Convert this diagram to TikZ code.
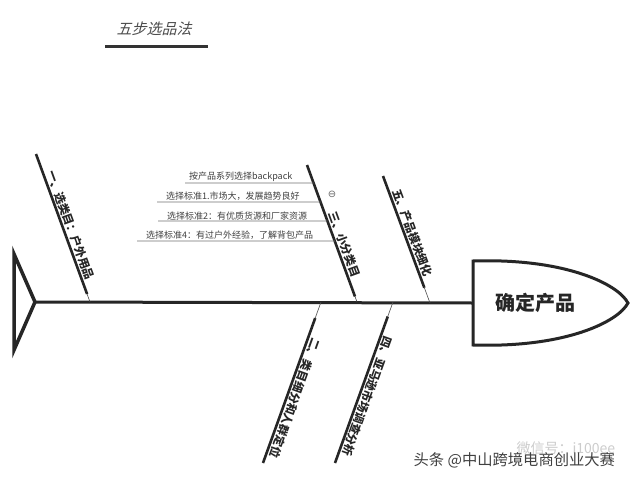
\documentclass[tikz,border=0pt]{standalone}
\usepackage{fontspec}
\setmainfont{Noto Sans CJK SC}
\newfontfamily\titlefont[FakeSlant=0.25]{Noto Sans CJK SC}
\newfontfamily\symfont{DejaVu Sans}
\usetikzlibrary{calc}
\begin{document}
\begin{tikzpicture}[x=1pt,y=-1pt,
  bone/.style={line width=2.6pt, color=black!85},
  thinbone/.style={line width=0.6pt, color=black!70},
  bonelabel/.style={font=\fontsize{11.5}{12}\selectfont\bfseries, text=black!85, sloped, allow upside down, above, inner sep=2.5pt},
  branchtext/.style={font=\fontsize{9}{9}\selectfont, text=black!75, anchor=south west, inner sep=1pt},
  branchline/.style={line width=0.7pt, color=black!55},
  outline/.style={line width=3pt, color=black!85}
]
\useasboundingbox[fill=white] (0,0) rectangle (640,482);

% title
\node[font=\titlefont\fontsize{15}{15}\selectfont, text=black!70] (title) at (154,29) {五步选品法};
\coordinate (ul1) at (105,46);
\coordinate (ul2) at (208,46);
\draw[line width=3pt, black!80] (ul1) -- (ul2);

% tail
\coordinate (tailT) at (14,254);
\coordinate (tailA) at (35,302);
\coordinate (tailB) at (14,350);
\draw[line width=3.5pt, black!85, line join=miter] (tailT) -- (tailA) -- (tailB) -- cycle;

% head
\coordinate (headL) at (473,303);
\draw[outline] (473,261) .. controls (565,258) and (618,284) .. (628,303)
  .. controls (618,322) and (565,348) .. (473,345) -- cycle;
\node[font=\fontsize{20}{20}\selectfont\bfseries, text=black!85] (head) at (535,303) {确定产品};

% spine
\draw[outline] (tailA) -- (headL);

% bone 1
\coordinate (b1o) at (36,154);
\coordinate (b1s) at (90,302);
\coordinate (b1k) at ($(b1o)!0.946!(b1s)$);
\draw[bone] (b1o) -- (b1k);
\draw[thinbone] (b1k) -- (b1s);
\path (b1o) -- node[bonelabel, pos=0.5] (l1) {一、选类目：户外用品} (b1s);

% bone 3
\coordinate (b3o) at (307,165);
\coordinate (b3s) at (357,302);
\coordinate (b3k) at ($(b3o)!0.96!(b3s)$);
\draw[bone] (b3o) -- (b3k);
\draw[thinbone] (b3k) -- (b3s);
\path (b3o) -- node[bonelabel, pos=0.6] (l3) {三、小分类目} (b3s);
\node[font=\symfont\fontsize{10}{10}\selectfont, text=black!60] (circ) at (332,194) {⊖};

% bone 5
\coordinate (b5o) at (383,176);
\coordinate (b5s) at (430,303);
\coordinate (b5k) at ($(b5o)!0.88!(b5s)$);
\draw[bone] (b5o) -- (b5k);
\draw[thinbone] (b5k) -- (b5s);
\path (b5o) -- node[bonelabel, pos=0.47] (l5) {五、产品模块细化} (b5s);

% bone 2
\coordinate (b2o) at (263,463);
\coordinate (b2s) at (321,302);
\coordinate (b2k) at ($(b2o)!0.90!(b2s)$);
\draw[bone] (b2o) -- (b2k);
\draw[thinbone] (b2k) -- (b2s);
\path (b2s) -- node[bonelabel, pos=0.58] (l2) {二、类目细分和人群定位} (b2o);

% bone 4
\coordinate (b4o) at (335,463);
\coordinate (b4s) at (393,302);
\coordinate (b4k) at ($(b4o)!0.91!(b4s)$);
\draw[bone] (b4o) -- (b4k);
\draw[thinbone] (b4k) -- (b4s);
\path (b4s) -- node[bonelabel, pos=0.57] (l4) {四、亚马逊市场调查分析} (b4o);

% branches on bone 3
\coordinate (r1) at (185,183);
\coordinate (b3a) at ($(b3o)!0.131!(b3s)$);
\node[branchtext] (t1) at (188,183) {按产品系列选择backpack};
\draw[branchline] (r1) -- (b3a);

\coordinate (r2) at (157,202);
\coordinate (b3b) at ($(b3o)!0.270!(b3s)$);
\node[branchtext] (t2) at (165,202) {选择标准1.市场大，发展趋势良好};
\draw[branchline] (r2) -- (b3b);

\coordinate (r3) at (158,221);
\coordinate (b3c) at ($(b3o)!0.409!(b3s)$);
\node[branchtext] (t3) at (166,221) {选择标准2：有优质货源和厂家资源};
\draw[branchline] (r3) -- (b3c);

\coordinate (r4) at (137,241);
\coordinate (b3d) at ($(b3o)!0.555!(b3s)$);
\node[branchtext] (t4) at (145,241) {选择标准4：有过户外经验，了解背包产品};
\draw[branchline] (r4) -- (b3d);

% watermark
\node[font=\fontsize{14}{14}\selectfont, text=black!20, anchor=west] (wx) at (513,448) {微信号：i100ee};
\node[font=\fontsize{15.3}{15.3}\selectfont, text=black!75, anchor=west] (wm) at (410,460) {头条 @中山跨境电商创业大赛};
\end{tikzpicture}
\end{document}
